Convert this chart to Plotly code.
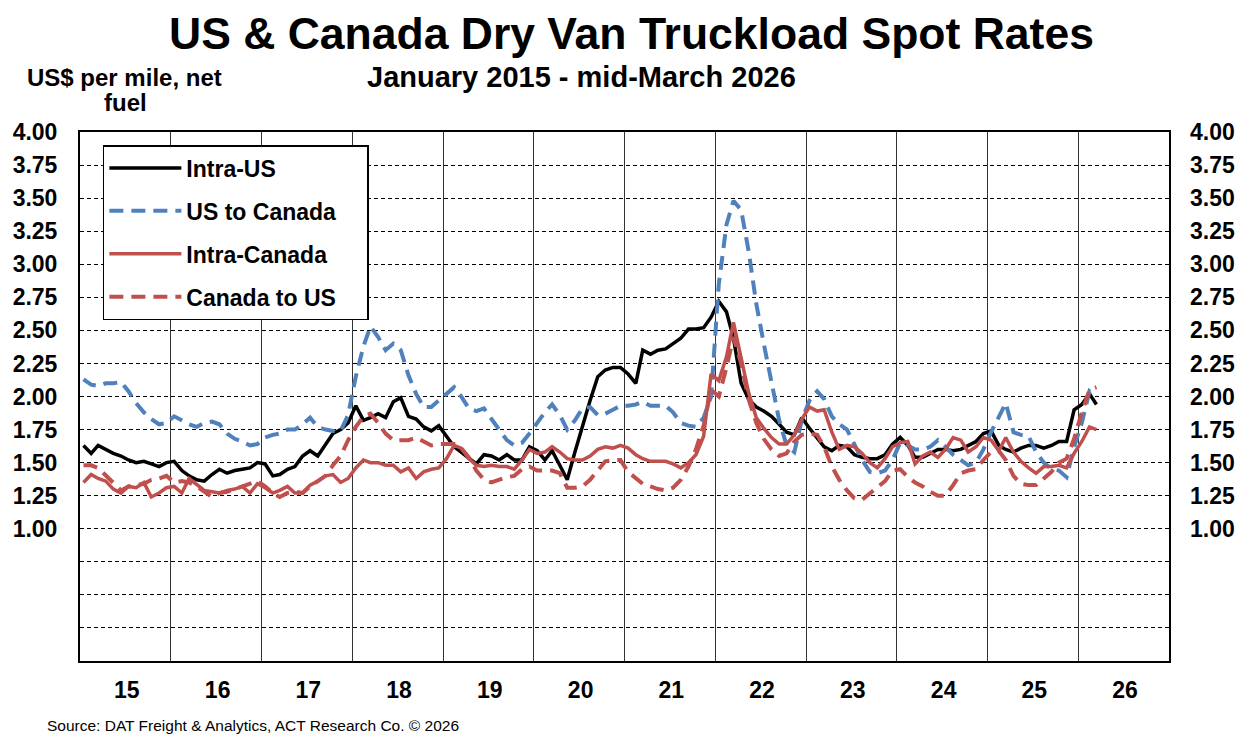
import pandas as pd
import plotly.graph_objects as go

# monthly, Jan 2015 - Mar 2026 (US$ per mile, net fuel)
months = pd.date_range("2015-01-01", "2026-03-01", freq="MS") + pd.Timedelta(days=14)

intra_us = [
    1.63, 1.57, 1.63, 1.60, 1.57, 1.55, 1.52, 1.50, 1.51, 1.49, 1.47, 1.50,
    1.51, 1.44, 1.40, 1.37, 1.36, 1.41, 1.45, 1.42, 1.44, 1.45, 1.46, 1.50,
    1.49, 1.40, 1.41, 1.45, 1.47, 1.55, 1.59, 1.55, 1.64, 1.72, 1.75, 1.80,
    1.93, 1.82, 1.84, 1.87, 1.84, 1.96, 1.99, 1.85, 1.83, 1.77, 1.74, 1.78,
    1.70, 1.62, 1.58, 1.53, 1.49, 1.56, 1.55, 1.52, 1.56, 1.52, 1.52, 1.62,
    1.59, 1.52, 1.59, 1.48, 1.37, 1.58, 1.78, 1.97, 2.15, 2.20, 2.22, 2.22,
    2.17, 2.10, 2.35, 2.32, 2.35, 2.36, 2.40, 2.44, 2.51, 2.51, 2.52, 2.60,
    2.72, 2.64, 2.44, 2.10, 1.98, 1.92, 1.89, 1.85, 1.79, 1.73, 1.71, 1.84,
    1.76, 1.69, 1.62, 1.59, 1.63, 1.62, 1.56, 1.54, 1.53, 1.53, 1.56, 1.64,
    1.69, 1.63, 1.54, 1.54, 1.57, 1.60, 1.60, 1.59, 1.60, 1.63, 1.66, 1.72,
    1.74, 1.63, 1.60, 1.58, 1.61, 1.63, 1.63, 1.61, 1.63, 1.66, 1.66, 1.90,
    1.94, 2.02, 1.94,
]
us_to_canada = [
    2.13, 2.09, 2.08, 2.10, 2.10, 2.11, 2.04, 1.95, 1.88, 1.83, 1.79, 1.80,
    1.85, 1.82, 1.79, 1.77, 1.80, 1.81, 1.79, 1.72, 1.68, 1.66, 1.63, 1.64,
    1.69, 1.71, 1.72, 1.75, 1.75, 1.79, 1.84, 1.77, 1.75, 1.74, 1.74, 1.86,
    2.15, 2.38, 2.53, 2.45, 2.35, 2.40, 2.35, 2.16, 2.02, 1.92, 1.92, 1.97,
    2.02, 2.07, 2.00, 1.91, 1.89, 1.91, 1.83, 1.75, 1.67, 1.63, 1.65, 1.72,
    1.80, 1.88, 1.94, 1.86, 1.75, 1.82, 1.91, 1.92, 1.86, 1.87, 1.90, 1.93,
    1.93, 1.94, 1.96, 1.93, 1.93, 1.93, 1.88, 1.80, 1.78, 1.77, 1.84, 2.00,
    2.85, 3.30, 3.48, 3.41, 3.10, 2.70, 2.40, 2.10, 1.82, 1.63, 1.58, 1.82,
    1.97, 2.04, 1.98, 1.85, 1.79, 1.75, 1.63, 1.52, 1.43, 1.42, 1.44, 1.52,
    1.65, 1.63, 1.60, 1.60, 1.62, 1.67, 1.62, 1.56, 1.52, 1.48, 1.50, 1.60,
    1.73, 1.85, 1.95, 1.73, 1.71, 1.70, 1.58, 1.50, 1.45, 1.44, 1.39, 1.62,
    1.80, 2.04, 2.00,
]
intra_canada = [
    1.35, 1.41, 1.38, 1.36, 1.30, 1.27, 1.32, 1.31, 1.35, 1.24, 1.27, 1.31,
    1.32, 1.27, 1.38, 1.33, 1.29, 1.28, 1.27, 1.29, 1.30, 1.32, 1.27, 1.34,
    1.31, 1.27, 1.29, 1.32, 1.27, 1.27, 1.33, 1.36, 1.40, 1.41, 1.35, 1.38,
    1.46, 1.52, 1.50, 1.50, 1.48, 1.48, 1.43, 1.46, 1.38, 1.43, 1.45, 1.46,
    1.53, 1.63, 1.61, 1.53, 1.48, 1.47, 1.48, 1.47, 1.47, 1.45, 1.52, 1.60,
    1.57, 1.58, 1.62, 1.58, 1.53, 1.52, 1.52, 1.55, 1.60, 1.62, 1.61, 1.63,
    1.61, 1.56, 1.53, 1.51, 1.51, 1.51, 1.49, 1.46, 1.50, 1.56, 1.70, 2.17,
    2.12, 2.30, 2.56, 2.30, 2.03, 1.84, 1.76, 1.69, 1.64, 1.64, 1.71, 1.83,
    1.92, 1.89, 1.90, 1.73, 1.60, 1.63, 1.62, 1.57, 1.50, 1.46, 1.53, 1.62,
    1.65, 1.66, 1.49, 1.55, 1.58, 1.54, 1.60, 1.69, 1.67, 1.58, 1.62, 1.69,
    1.67, 1.59, 1.69, 1.58, 1.51, 1.46, 1.42, 1.47, 1.47, 1.48, 1.46, 1.57,
    1.66, 1.77, 1.75,
]
canada_to_us = [
    1.48, 1.48, 1.46, 1.40, 1.34, 1.29, 1.32, 1.33, 1.34, 1.37, 1.38, 1.40,
    1.35, 1.36, 1.35, 1.32, 1.28, 1.24, 1.27, 1.28, 1.30, 1.32, 1.34, 1.36,
    1.32, 1.27, 1.24, 1.27, 1.28, 1.27, 1.32, 1.36, 1.40, 1.48, 1.55, 1.67,
    1.77, 1.85, 1.87, 1.80, 1.72, 1.67, 1.67, 1.67, 1.69, 1.66, 1.63, 1.64,
    1.64, 1.64, 1.61, 1.54, 1.44, 1.37, 1.35, 1.37, 1.39, 1.40, 1.45, 1.47,
    1.44, 1.44, 1.44, 1.42, 1.31, 1.31, 1.32, 1.37, 1.44, 1.51, 1.52, 1.52,
    1.43, 1.38, 1.34, 1.32, 1.30, 1.29, 1.31, 1.37, 1.47, 1.60, 1.78, 2.05,
    2.00, 2.22, 2.45, 2.25, 1.98, 1.80, 1.68, 1.60, 1.55, 1.57, 1.66, 1.71,
    1.72, 1.71, 1.62, 1.47, 1.37, 1.29, 1.23, 1.22, 1.27, 1.31, 1.36, 1.44,
    1.45, 1.39, 1.35, 1.32, 1.28, 1.25, 1.25, 1.33, 1.42, 1.44, 1.45, 1.52,
    1.58, 1.59, 1.52, 1.40, 1.34, 1.33, 1.33, 1.38, 1.43, 1.50, 1.53, 1.68,
    1.88, 2.05, 2.07,
]

year_labels = ["15", "16", "17", "18", "19", "20", "21", "22", "23", "24", "25", "26"]
y_ticks = [0.25 * k for k in range(17)]
y_labels = ["" if v < 1 else f"{v:.2f}" for v in y_ticks]

FONT = "Liberation Sans, Arial, sans-serif"
BLUE = "#4F81BD"
RED = "#C0504D"
DASH = "14px,8px"
PAD = "\u00a0\u00a0\u00a0\u00a0"  # widens the legend box a little

fig = go.Figure()
fig.add_trace(go.Scatter(x=months, y=intra_us, name="Intra-US", mode="lines",
                         legendgroup="a", line=dict(color="black", width=3.5)))
fig.add_trace(go.Scatter(x=months, y=us_to_canada, name="US to Canada" + PAD, mode="lines",
                         legendgroup="b", line=dict(color=BLUE, width=4, dash=DASH)))
fig.add_trace(go.Scatter(x=months, y=intra_canada, name="Intra-Canada", mode="lines",
                         legendgroup="c", line=dict(color=RED, width=3.5)))
fig.add_trace(go.Scatter(x=months, y=canada_to_us, name="Canada to US", mode="lines",
                         legendgroup="d", line=dict(color=RED, width=4, dash=DASH)))

year_mid = [pd.Timestamp(f"20{y}-07-08") for y in year_labels]
year_edges = [pd.Timestamp(f"{y}-01-01") for y in range(2016, 2027)]

fig.update_layout(
    width=1250, height=745,
    margin=dict(l=80, r=81, t=132, b=84),
    paper_bgcolor="white", plot_bgcolor="white",
    font=dict(family=FONT, color="black"),
    showlegend=True,
    legend=dict(x=0.021, y=(661 - 145) / 529, xanchor="left", yanchor="top",
                bgcolor="white", bordercolor="black", borderwidth=1.5,
                font=dict(size=23, family=FONT, weight="bold"),
                itemwidth=72, tracegroupgap=10),
    xaxis=dict(
        range=[pd.Timestamp("2015-01-01"), pd.Timestamp("2027-01-01")],
        tickmode="array", tickvals=year_mid, ticktext=year_labels,
        ticks="", showgrid=False, zeroline=False,
        showline=True, linecolor="black", linewidth=2, mirror=True,
        tickfont=dict(size=23, family=FONT, weight="bold"),
        ticklabelstandoff=7,
        minor=dict(tickmode="array", tickvals=year_edges, showgrid=True,
                   gridcolor="#333333", gridwidth=1, ticks=""),
    ),
    yaxis=dict(
        range=[0, 4], tickmode="array", tickvals=y_ticks, ticktext=y_labels,
        ticks="", showgrid=True, gridcolor="black", gridwidth=1, griddash="4px,3px",
        zeroline=False, showline=True, linecolor="black", linewidth=2, mirror=True,
        tickfont=dict(size=23, family=FONT, weight="bold"),
        ticklabelstandoff=16,
    ),
    yaxis2=dict(
        range=[0, 4], tickmode="array", tickvals=y_ticks, ticktext=y_labels,
        overlaying="y", side="right", anchor="x", showgrid=False, zeroline=False,
        ticks="", tickfont=dict(size=23, family=FONT, weight="bold"),
        ticklabelstandoff=20,
    ),
)

fig.add_trace(go.Scatter(x=months[:1], y=intra_us[:1], yaxis="y2", mode="lines",
                         line=dict(width=0), showlegend=False, hoverinfo="skip"))


def px_note(text, x, y, size, anchor="center"):
    fig.add_annotation(text=text, xref="paper", yref="paper",
                       x=(x - 80) / 1089, y=(661 - y) / 529,
                       xanchor=anchor, yanchor="middle", showarrow=False,
                       font=dict(size=size, family=FONT))


px_note("<b>US & Canada Dry Van Truckload Spot Rates</b>", 631, 33, 44.5)
px_note("<b>January 2015 - mid-March 2026</b>", 581, 77, 29)
px_note("<b>US$ per mile, net</b>", 124, 78, 24)
px_note("<b>fuel</b>", 125, 103, 24)
px_note("Source: DAT Freight & Analytics, ACT Research Co. \u00a9 2026", 45, 725, 15.5,
        anchor="left")

fig.write_html("out.html", config={"displayModeBar": False},
               post_script="document.body.style.margin='0px';")
